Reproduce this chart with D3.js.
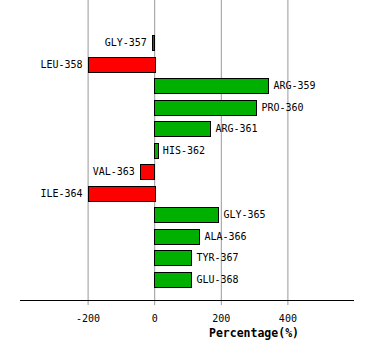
<!DOCTYPE html>
<html>
<head>
<meta charset="utf-8">
<title>Percentage chart</title>
<script src="https://cdnjs.cloudflare.com/ajax/libs/d3/7.8.5/d3.min.js"></script>
<style>
body{
margin:0;
background:#fff
}
svg{
display:block
}
text{
font-family:"DejaVu Sans Mono",monospace
}
</style>
</head>
<body>
<svg width="374" height="360"></svg>

<script>

var residues = ["GLY-357","LEU-358","ARG-359","PRO-360","ARG-361","HIS-362","VAL-363","ILE-364","GLY-365","ALA-366","TYR-367","GLU-368"]
var percents = [-7,-200,343,307,169,11,-43,-200,193,136,112,112]
var ticks = [-200,0,200,400]

var data = residues.map((r,i) => ({name:r, value:percents[i]}))

const svg = d3.select('svg')

var x = d3.scaleLinear().domain([-403,600]).range([20,354])
var y = d3.scaleBand().domain(residues).range([32,290]).paddingInner(0.3).paddingOuter(0.15)

// grid
svg.append("g")
	.selectAll("line")
	.data(ticks)
	.join("line")
	.attr("x1", d => x(d)+0.5)
	.attr("x2", d => x(d)+0.5)
	.attr("y1", 0)
	.attr("y2", 305)
	.attr("stroke", "#999")
	.attr("stroke-width", 1)

// bars
svg.append("g")
	.selectAll("rect")
	.data(data)
	.join("rect")
	.attr("x", d => Math.round(Math.min(x(0), x(d.value)))+0.5)
	.attr("y", d => Math.round(y(d.name))+0.5)
	.attr("width", d => Math.max(1, Math.round(Math.abs(x(d.value)-x(0)))))
	.attr("height", Math.round(y.bandwidth()))
	.attr("fill", d => d.value < 0 ? "#ff0000" : "#00b000")
	.attr("stroke", "#000")
	.attr("stroke-width", 1)

// labels
svg.append("g")
	.selectAll("text")
	.data(data)
	.join("text")
	.attr("x", d => d.value < 0 ? x(d.value)-5 : x(d.value)+5)
	.attr("y", d => y(d.name)+y.bandwidth()/2)
	.attr("dy", "0.35em")
	.attr("text-anchor", d => d.value < 0 ? "end" : "start")
	.attr("font-size", "10px")
	.text(d => d.name)

// axis
const axis = svg.append("g").attr("transform", "translate(0,300.5)")
axis.append("line")
	.attr("x1", 20).attr("x2", 354)
	.attr("stroke", "#000")
axis.selectAll("text.tick")
	.data(ticks)
	.join("text")
	.attr("class", "tick")
	.attr("x", d => x(d)+0.5)
	.attr("y", 21)
	.attr("text-anchor", "middle")
	.attr("font-size", "10px")
	.text(d => d)

svg.append("text")
	.attr("x", 254)
	.attr("y", 337)
	.attr("text-anchor", "middle")
	.attr("font-size", "11.5px")
	.attr("font-weight", "bold")
	.text("Percentage(%)")

</script>
</body>
</html>
